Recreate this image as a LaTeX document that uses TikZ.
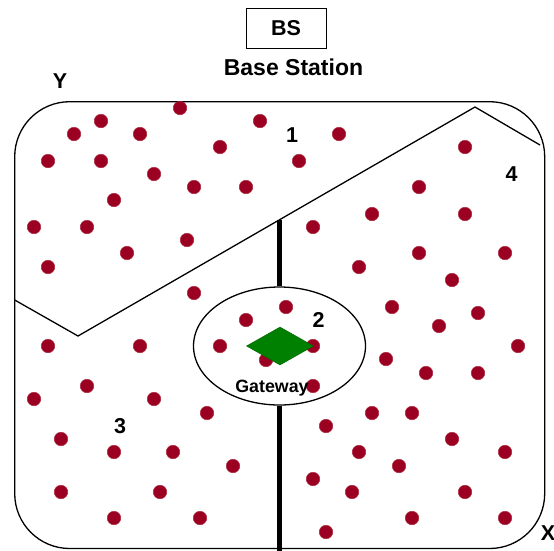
\documentclass[tikz,border=0pt]{standalone}
\usepackage{fontspec}
\setmainfont{Liberation Sans}
\usetikzlibrary{shapes.geometric}
\definecolor{dotred}{RGB}{155,0,34}
\definecolor{dotrim}{RGB}{170,40,60}
\definecolor{gwgreen}{RGB}{0,128,0}
\tikzset{
  sensor/.style={circle,fill=dotred,draw=dotrim,line width=0.5pt,minimum size=13.5pt,inner sep=0pt},
  lbl/.style={font=\bfseries\fontsize{21.5}{21.5}\selectfont,inner sep=0pt,anchor=base},
  thin/.style={line width=1.3pt},
  divider/.style={line width=4.5pt}
}
\begin{document}
\begin{tikzpicture}[x=1pt,y=-1pt]
\useasboundingbox (0,0) rectangle (554,550);
% field boundary
\draw[thin,rounded corners=55pt] (14.7,101.7) rectangle (544.7,548.5);
% zigzag partition
\coordinate (z1) at (14.7,300);
\coordinate (z2) at (78,336);
\coordinate (z3) at (475,107);
\coordinate (z4) at (540,145);
\draw[thin] (z1) -- (z2) -- (z3) -- (z4);
% gateway ellipse
\node[draw,thin,ellipse,minimum width=172pt,minimum height=118pt,inner sep=0pt] (gw) at (279.5,346) {};
\coordinate (vtop) at (279.5,220);
\coordinate (vbot) at (279.5,552);
\draw[divider] (vtop) -- (gw.north);
\draw[divider] (gw.south) -- (vbot);
% sensors
\foreach \px/\py [count=\i] in {180/108,101/121,74/134,140/134,260/121,220/147,339/134,48/161,101/161,154/174,194/187,246/187,299/161,465/147,419/187,114/200,
34/227,87/227,187/240,127/253,48/267,313/227,372/214,465/214,419/253,505/253,359/267,452/280,194/293,286/307,246/320,392/307,478/313,439/326,48/346,140/346,220/346,313/346,266/360,386/359,518/346,426/373,478/373,
87/386,34/399,154/399,207/413,313/386,372/413,412/413,326/426,61/439,114/452,173/452,233/466,452/439,359/452,505/452,399/466,313/479,352/492,465/492,61/492,160/492,114/518,200/518,412/518,505/518,326/532}
  \node[sensor] (d\i) at (\px,\py) {};
% gateway diamond
\node[diamond,fill=gwgreen,draw=green!40!black,line width=0.5pt,minimum width=67pt,minimum height=38pt,inner sep=0pt,aspect=1.76] (gwd) at (280,346) {};
\node[font=\bfseries\fontsize{17.8}{17.8}\selectfont,inner sep=0pt,anchor=base] (gwt) at (272,392) {Gateway};
% base station
\node[draw,line width=1pt,minimum width=80pt,minimum height=40pt,inner sep=0pt] (bsbox) at (286,28.3) {};
\node[lbl] (bs) at (286,35) {BS};
\node[lbl,font=\bfseries\fontsize{23}{23}\selectfont] (bst) at (293.5,75.5) {Base Station};
% labels
\node[lbl] (ly) at (60,88) {Y};
\node[lbl] (lx) at (548,540) {X};
\node[lbl] (l1) at (292,142) {1};
\node[lbl] (l2) at (318.5,327) {2};
\node[lbl] (l3) at (120,433) {3};
\node[lbl] (l4) at (511.5,181) {4};
\end{tikzpicture}
\end{document}
